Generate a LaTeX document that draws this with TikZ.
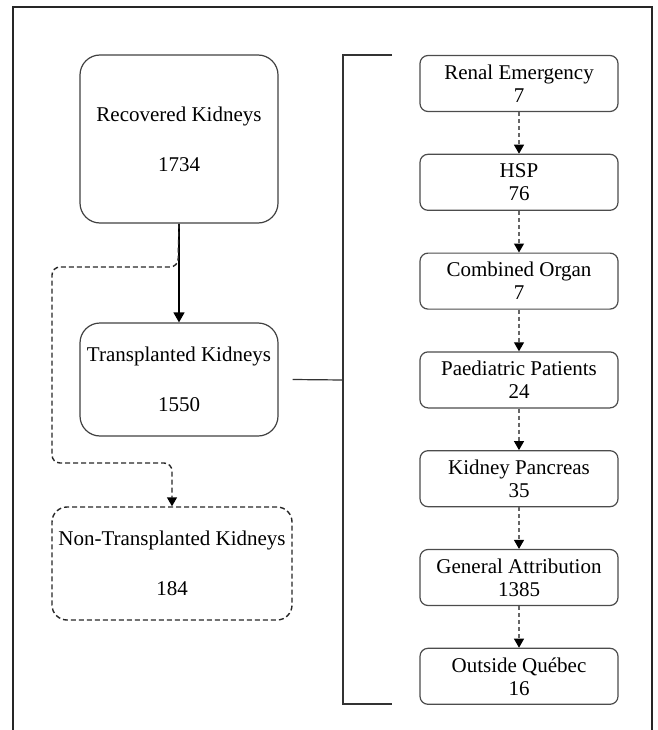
\documentclass[tikz,border=0pt]{standalone}
\usepackage{fontspec}
\setmainfont{LiberationSerif}[Extension=.ttf, UprightFont=*-Regular, BoldFont=*-Bold]
\usetikzlibrary{arrows.meta}
\begin{document}
\begin{tikzpicture}[x=1pt,y=-1pt,
  txt/.style={font=\fontsize{21}{23}\selectfont, align=center, inner sep=0pt},
  bigbox/.style={txt, draw=black!75, line width=1.2pt, rounded corners=20pt, minimum width=198pt},
  smallbox/.style={txt, draw=black!70, line width=1.2pt, rounded corners=8pt, minimum width=198pt, minimum height=56pt},
  flowdash/.style={draw=black!60, line width=1.2pt, dash pattern=on 4pt off 3pt, -{Triangle[length=9pt,width=10pt,color=black]}},
  leftdash/.style={draw=black!85, line width=1.4pt, dash pattern=on 5pt off 3pt, rounded corners=8pt, -{Triangle[length=9pt,width=10pt,color=black]}},
  framepen/.style={draw=black!85, line width=2pt},
  brackpen/.style={draw=black!80, line width=1.2pt}]
\useasboundingbox (0,0) rectangle (657,730);
% frame
\coordinate (fa) at (13,730);
\coordinate (fb) at (13,7);
\coordinate (fc) at (652,7);
\coordinate (fd) at (652,730);
\draw[framepen] (fa) -- (fb) -- (fc) -- (fd);
% left column
\node[bigbox, minimum height=168pt] (rec) at (179,139) {Recovered Kidneys\\[27pt]1734};
\node[bigbox, minimum height=113pt] (tk) at (179,379.5) {Transplanted Kidneys\\[27pt]1550};
\node[bigbox, minimum width=240pt, minimum height=113pt, rounded corners=15pt, draw=black!85, dash pattern=on 5pt off 3pt, line width=1.4pt] (nt) at (172,563.5) {Non-Transplanted Kidneys\\[27pt]184};
\draw[line width=1.3pt, -{Triangle[length=10pt,width=11pt]}] (rec.south) -- (tk.north);
\coordinate (dturn) at (178,267);
\coordinate (dleft) at (52,463);
\draw[leftdash] (rec.south) -- (dturn) -| (dleft) -| (nt.north);
% bracket
\coordinate (bt) at (392,55);
\coordinate (btl) at (343,55);
\coordinate (bbl) at (343,704);
\coordinate (bb) at (392,704);
\coordinate (bm) at (343,380);
\draw[brackpen] (bt) -- (btl) -- (bbl) -- (bb);
\draw[brackpen] ([xshift=14pt]tk.east) -- (bm);
% right column
\node[smallbox] (r1) at (519,83.5) {Renal Emergency\\7};
\node[smallbox] (r2) at (519,182.3) {HSP\\76};
\node[smallbox] (r3) at (519,281.1) {Combined Organ\\7};
\node[smallbox] (r4) at (519,379.9) {Paediatric Patients\\24};
\node[smallbox] (r5) at (519,478.7) {Kidney Pancreas\\35};
\node[smallbox] (r6) at (519,577.5) {General Attribution\\1385};
\node[smallbox] (r7) at (519,676.3) {Outside Québec\\16};
\foreach \a/\b in {r1/r2,r2/r3,r3/r4,r4/r5,r5/r6,r6/r7}
  \draw[flowdash] (\a.south) -- (\b.north);
\end{tikzpicture}
\end{document}
